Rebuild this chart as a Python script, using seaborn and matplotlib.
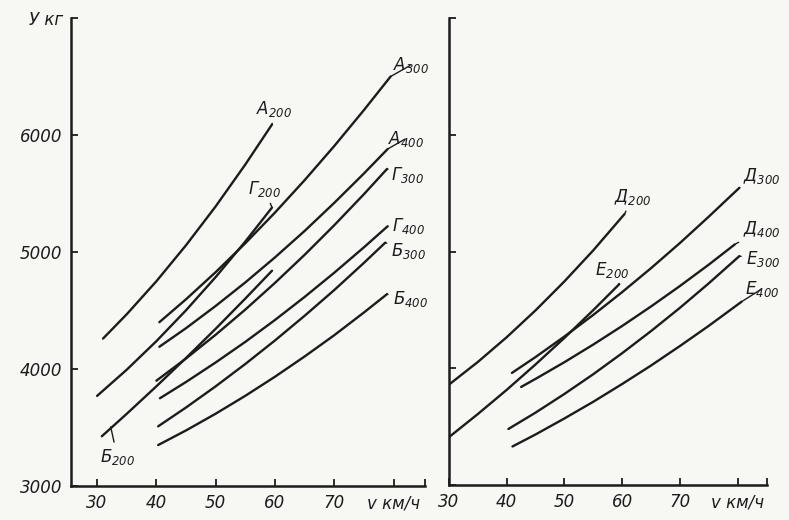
import pandas as pd
import numpy as np
import matplotlib
matplotlib.use("Agg")
import matplotlib.pyplot as plt
import seaborn as sns

# --- данные (скорость v, км/ч -> усилие Y, кг) ---
# левая панель
v_a200 = [31, 35, 40, 45, 50, 55, 59.5]
y_a200 = [4260, 4468, 4750, 5058, 5390, 5748, 6090]
v_a300 = [40.5, 45, 50, 55, 60, 65, 70, 75, 79.5]
y_a300 = [4400, 4596, 4828, 5075, 5337, 5614, 5906, 6213, 6500]
v_a400 = [40.5, 45, 50, 55, 60, 65, 70, 75, 79]
y_a400 = [4190, 4349, 4539, 4740, 4954, 5180, 5420, 5671, 5880]
v_b200 = [30.8, 35, 40, 45, 50, 55, 59.5]
y_b200 = [3425, 3617, 3852, 4094, 4344, 4602, 4840]
v_b300 = [40.3, 45, 50, 55, 60, 65, 70, 75, 78.6]
y_b300 = [3510, 3671, 3852, 4043, 4244, 4455, 4675, 4907, 5080]
v_b400 = [40.3, 45, 50, 55, 60, 65, 70, 75, 78.9]
y_b400 = [3350, 3475, 3618, 3771, 3934, 4107, 4289, 4483, 4640]
v_g200 = [30, 35, 40, 45, 50, 55, 59.5]
y_g200 = [3770, 3994, 4238, 4502, 4786, 5090, 5380]
v_g300 = [40, 45, 50, 55, 60, 65, 70, 75, 78.9]
y_g300 = [3900, 4090, 4293, 4508, 4736, 4976, 5229, 5494, 5710]
v_g400 = [40.6, 45, 50, 55, 60, 65, 70, 75, 79]
y_g400 = [3750, 3889, 4056, 4232, 4419, 4616, 4823, 5040, 5220]

# правая панель
v_d200 = [30, 35, 40, 45, 50, 55, 60.4]
y_d200 = [3860, 4054, 4266, 4496, 4744, 5010, 5320]
v_d300 = [40.9, 45, 50, 55, 60, 65, 70, 75, 80.3]
y_d300 = [3960, 4096, 4272, 4457, 4652, 4857, 5072, 5298, 5545]
v_d400 = [42.5, 45, 50, 55, 60, 65, 70, 75, 79.5]
y_d400 = [3840, 3909, 4052, 4203, 4362, 4529, 4704, 4887, 5060]
v_e200 = [30, 35, 40, 45, 50, 55, 59.5]
y_e200 = [3410, 3608, 3815, 4033, 4260, 4498, 4720]
v_e300 = [40.3, 45, 50, 55, 60, 65, 70, 75, 80.3]
y_e300 = [3480, 3620, 3780, 3949, 4129, 4318, 4517, 4727, 4960]
v_e400 = [41, 45, 50, 55, 60, 65, 70, 75, 80.7]
y_e400 = [3330, 3433, 3570, 3713, 3865, 4023, 4190, 4363, 4570]

left_curves = {
    "А200": (v_a200, y_a200), "А300": (v_a300, y_a300), "А400": (v_a400, y_a400),
    "Б200": (v_b200, y_b200), "Б300": (v_b300, y_b300), "Б400": (v_b400, y_b400),
    "Г200": (v_g200, y_g200), "Г300": (v_g300, y_g300), "Г400": (v_g400, y_g400),
}
right_curves = {
    "Д200": (v_d200, y_d200), "Д300": (v_d300, y_d300), "Д400": (v_d400, y_d400),
    "Е200": (v_e200, y_e200), "Е300": (v_e300, y_e300), "Е400": (v_e400, y_e400),
}

# положение подписей кривых (v, Y)
left_labels = {
    "А200": (59.8, 6225), "А300": (83.0, 6600), "А400": (82.1, 5970),
    "Г200": (58.2, 5540), "Г300": (82.4, 5660), "Г400": (82.6, 5220),
    "Б200": (33.4, 3250), "Б300": (82.6, 5010), "Б400": (82.8, 4600),
}
right_labels = {
    "Д200": (61.9, 5470), "Д300": (84.2, 5650), "Д400": (84.2, 5190),
    "Е200": (58.2, 4840), "Е300": (84.4, 4940), "Е400": (84.2, 4680),
}

y_ticks = [3000, 4000, 5000, 6000, 7000]
y_ticklabels = ["3000", "4000", "5000", "6000", "У кг"]
x_ticks = [30, 40, 50, 60, 70, 80]
x_ticklabels = ["30", "40", "50", "60", "70", "v км/ч"]


def to_long(curves):
    rows = []
    for name, (v, y) in curves.items():
        for vi, yi in zip(v, y):
            rows.append({"v": vi, "Y": yi, "curve": name})
    return pd.DataFrame(rows)


sns.set_theme(style="white")
plt.rcParams["font.family"] = ["DejaVu Sans"]
plt.rcParams["mathtext.default"] = "regular"

bg = "#f7f7f3"
ink = "#1c1c1c"

fig = plt.figure(figsize=(7.89, 5.20), dpi=100, facecolor=bg)
ax1 = fig.add_axes([71 / 789, 34 / 520, 354 / 789, 468 / 520])
ax2 = fig.add_axes([449 / 789, 35 / 520, 318 / 789, 467 / 520])


def draw_panel(ax, curves, labels, xlim, show_ylabels):
    df = to_long(curves)
    sns.lineplot(data=df, x="v", y="Y", hue="curve", units="curve",
                 estimator=None, sort=False, legend=False,
                 palette=[ink] * len(curves), linewidth=1.7, ax=ax)
    ax.set_facecolor(bg)
    ax.set_xlim(*xlim)
    ax.set_ylim(3000, 7000)
    ax.set_xlabel("")
    ax.set_ylabel("")

    for sp in ["top", "right"]:
        ax.spines[sp].set_visible(False)
    for sp in ["left", "bottom"]:
        ax.spines[sp].set_color(ink)
        ax.spines[sp].set_linewidth(1.8)

    ax.set_xticks(x_ticks + [xlim[1]])
    ax.set_xticklabels(x_ticklabels + [""])
    ax.set_yticks(y_ticks)
    ax.set_yticklabels(y_ticklabels if show_ylabels else [""] * len(y_ticks))
    ax.tick_params(axis="both", direction="in", length=5, width=1.3,
                   bottom=True, left=True,
                   color=ink, labelcolor=ink, labelsize=12, pad=6)
    for t in ax.get_xticklabels() + ax.get_yticklabels():
        t.set_fontstyle("italic")

    # подписи кривых с выносками
    for name, (tx, ty) in labels.items():
        v, y = curves[name]
        target = (v[0] + 1.5, y[0] + 80) if name == "Б200" else (v[-1], y[-1])
        ax.annotate(name[0] + "$_{" + name[1:] + "}$",
                    xy=target, xytext=(tx, ty), ha="center", va="center",
                    fontsize=12, fontstyle="italic", color=ink,
                    arrowprops=dict(arrowstyle="-", color=ink, lw=1.0,
                                    shrinkA=1, shrinkB=0),
                    annotation_clip=False)


draw_panel(ax1, left_curves, left_labels, (25.6, 85.3), True)
draw_panel(ax2, right_curves, right_labels, (30, 85.1), False)

fig.savefig("out.png", dpi=100, facecolor=bg)
